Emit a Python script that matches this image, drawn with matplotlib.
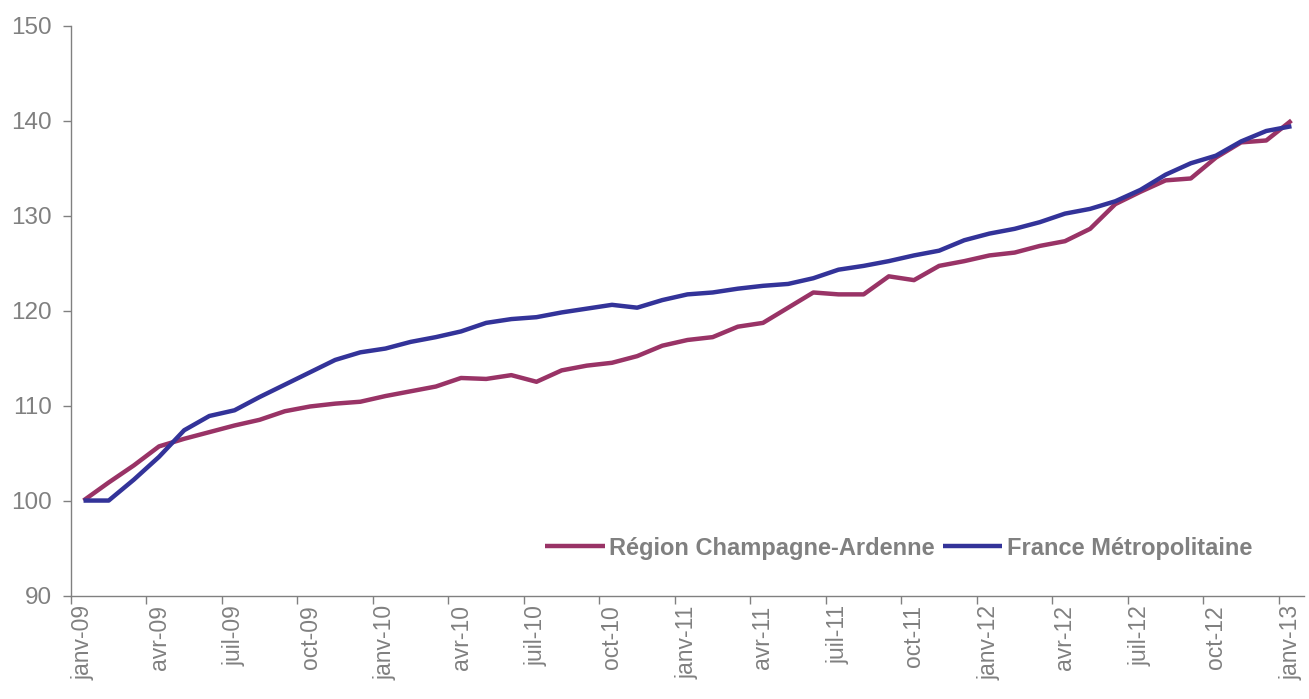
import matplotlib
matplotlib.use("Agg")
import matplotlib.pyplot as plt
import numpy as np

months = ["janv", "févr", "mars", "avr", "mai", "juin", "juil", "août", "sept", "oct", "nov", "déc"]
dates = [f"{months[m]}-{y:02d}" for y in range(9, 14) for m in range(12)][:49]

champagne = [100.0, 101.9, 103.7, 105.7, 106.5, 107.2, 107.9, 108.5, 109.4, 109.9,
             110.2, 110.4, 111.0, 111.5, 112.0, 112.9, 112.8, 113.2, 112.5, 113.7,
             114.2, 114.5, 115.2, 116.3, 116.9, 117.2, 118.3, 118.7, 120.3, 121.9,
             121.7, 121.7, 123.6, 123.2, 124.7, 125.2, 125.8, 126.1, 126.8, 127.3,
             128.6, 131.2, 132.5, 133.7, 133.9, 136.1, 137.7, 137.9, 140.0]
france = [100.0, 100.0, 102.2, 104.6, 107.4, 108.9, 109.5, 110.9, 112.2, 113.5,
          114.8, 115.6, 116.0, 116.7, 117.2, 117.8, 118.7, 119.1, 119.3, 119.8,
          120.2, 120.6, 120.3, 121.1, 121.7, 121.9, 122.3, 122.6, 122.8, 123.4,
          124.3, 124.7, 125.2, 125.8, 126.3, 127.4, 128.1, 128.6, 129.3, 130.2,
          130.7, 131.5, 132.7, 134.3, 135.5, 136.3, 137.8, 138.9, 139.4]
series_names = ["Région Champagne-Ardenne", "France Métropolitaine"]
yticks = [90, 100, 110, 120, 130, 140, 150]

RED = "#993366"
BLUE = "#333399"
GRAY = "#808080"

plt.rcParams['font.family'] = ['Liberation Sans', 'DejaVu Sans']

fig = plt.figure(figsize=(13.09, 6.99), dpi=100)
ax = fig.add_axes([0.0542, 0.148, 0.942, 0.8155])

x = np.arange(len(dates))
ax.plot(x, champagne, color=RED, lw=3.2, label=series_names[0], solid_capstyle='butt')
ax.plot(x, france, color=BLUE, lw=3.2, label=series_names[1], solid_capstyle='butt')

ax.set_xlim(-0.5, len(dates) - 0.5)
ax.set_ylim(90, 150)
ax.set_yticks(yticks)

label_pos = x[::3]
ax.set_xticks(label_pos - 0.5)
ax.set_xticklabels([])
ax.set_xticks(label_pos, minor=True)
ax.set_xticklabels([dates[i] for i in label_pos], minor=True, rotation=90,
                   fontsize=16.5, color=GRAY, va='top', ha='center')
ax.tick_params(axis='x', which='minor', length=0, pad=7)
ax.tick_params(axis='x', which='major', length=6, width=1, color=GRAY, direction='out')
ax.tick_params(axis='y', length=6, width=1, color=GRAY, direction='out', pad=7.5,
               labelsize=17.5, labelcolor=GRAY)

for s in ['top', 'right']:
    ax.spines[s].set_visible(False)
for s in ['left', 'bottom']:
    ax.spines[s].set_color(GRAY)
    ax.spines[s].set_linewidth(1)

leg = ax.legend(loc='center right', bbox_to_anchor=(0.958, 0.083), ncol=2, frameon=False,
                borderpad=0, borderaxespad=0, handlelength=2.5, handletextpad=0.2,
                columnspacing=0.35, prop={'weight': 'bold', 'size': 17})
for t in leg.get_texts():
    t.set_color(GRAY)

fig.savefig("out.png", dpi=100)
